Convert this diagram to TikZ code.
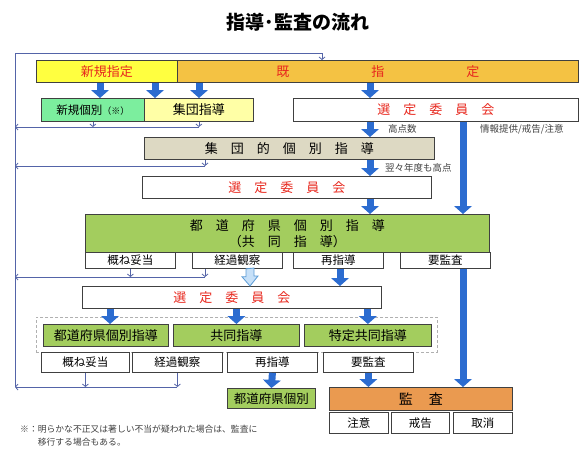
\documentclass[tikz,border=0pt]{standalone}
\usepackage{fontspec}
\setmainfont{Noto Sans CJK JP}
\usepackage{xcolor}
\usepackage{tikz}
\usetikzlibrary{arrows.meta}
\definecolor{FLYellow}{HTML}{FFFF40}
\definecolor{FLOrange}{HTML}{F4C243}
\definecolor{FLMint}{HTML}{7CEE9E}
\definecolor{FLCream}{HTML}{FFFFA6}
\definecolor{FLBeige}{HTML}{DDD9C3}
\definecolor{FLGreen}{HTML}{A3CD5E}
\definecolor{FLAudit}{HTML}{EA9A50}
\definecolor{FLBlue}{HTML}{2C6CD0}
\definecolor{FLSky}{HTML}{C6E0F8}
\definecolor{FLSkyEdge}{HTML}{5B9BD5}
\definecolor{FLRail}{HTML}{5464A8}
\definecolor{FLRed}{HTML}{E8281E}
\definecolor{FLEdge}{HTML}{404040}
\definecolor{FLFrame}{HTML}{B0B0B0}
\definecolor{FLText}{HTML}{404040}

\begin{document}
\begin{tikzpicture}[x=1pt,y=-1pt,
  box/.style={draw=FLEdge,line width=0.8pt,inner sep=0pt,anchor=north west,align=center,font=\fontsize{13}{16}\selectfont},
  res/.style={box,fill=white,font=\fontsize{11.5}{12}\selectfont},
  lbl/.style={inner sep=0pt,anchor=west,text=FLText,font=\fontsize{9.5}{10}\selectfont},
  blk/.style={draw=FLBlue,line width=7pt,-{Triangle[width=18pt,length=8pt,line width=0pt]}},
  hollow/.style={draw=FLSkyEdge,fill=FLSky,line width=0.8pt},
  rail/.style={draw=FLRail,line width=0.8pt},
  railtip/.style={rail,-{Straight Barb[length=2.5pt,width=6pt]}}]
\path[use as bounding box] (0,0) rectangle (586,450);
\node[font=\fontsize{19}{19}\selectfont\bfseries] (title) at (298,22) {指導･監査の流れ};
\node[box,fill=FLYellow,text=FLRed,minimum width=141pt,minimum height=22pt] (newdes) at (36,60) {新規指定};
\node[box,fill=FLOrange,text=FLRed,minimum width=401pt,minimum height=22pt] (exdes) at (177,60) {既\hspace{82pt}指\hspace{82pt}定};
\node[box,fill=FLMint,minimum width=103pt,minimum height=23pt,font=\fontsize{11.5}{12}\selectfont] (newind) at (41,98) {新規個別{\fontsize{9}{9}\selectfont（※）}};
\node[box,fill=FLCream,minimum width=109pt,minimum height=23pt] (grpgd) at (144,98) {集団指導};
\node[box,fill=white,text=FLRed,minimum width=285pt,minimum height=23pt] (sel1) at (293,98) {選\quad 定\quad 委\quad 員\quad 会};
\node[box,fill=FLBeige,minimum width=290pt,minimum height=22pt] (grpind) at (144,137) {集\quad 団\quad 的\quad 個\quad 別\quad 指\quad 導};
\node[box,fill=white,text=FLRed,minimum width=289pt,minimum height=22pt] (sel2) at (142,176) {選\quad 定\quad 委\quad 員\quad 会};
\node[box,fill=FLGreen,minimum width=404pt,minimum height=38pt] (prefjt) at (85,214) {都\quad 道\quad 府\quad 県\quad 個\quad 別\quad 指\quad 導\\（共\quad 同\quad 指\quad 導）};
\node[res,minimum width=90pt,minimum height=16pt] (ok1) at (85,252) {概ね妥当};
\node[res,minimum width=90pt,minimum height=16pt] (obs1) at (192,252) {経過観察};
\node[res,minimum width=90pt,minimum height=16pt] (re1) at (293,252) {再指導};
\node[res,minimum width=90pt,minimum height=16pt] (aud1) at (400,252) {要監査};
\node[box,fill=white,text=FLRed,minimum width=299pt,minimum height=22pt] (sel3) at (82,286) {選\quad 定\quad 委\quad 員\quad 会};
\node[draw=FLFrame,densely dashed,line width=0.8pt,inner sep=0pt,anchor=north west,minimum width=401pt,minimum height=35pt] (frame) at (36,317) {};
\node[box,fill=FLGreen,minimum width=125pt,minimum height=22pt] (pref) at (43,324) {都道府県個別指導};
\node[box,fill=FLGreen,minimum width=126pt,minimum height=22pt] (joint) at (173,324) {共同指導};
\node[box,fill=FLGreen,minimum width=127pt,minimum height=22pt] (spjoint) at (304,324) {特定共同指導};
\node[res,minimum width=88pt,minimum height=20pt] (ok2) at (41,352) {概ね妥当};
\node[res,minimum width=90pt,minimum height=20pt] (obs2) at (132,352) {経過観察};
\node[res,minimum width=90pt,minimum height=20pt] (re2) at (227,352) {再指導};
\node[res,minimum width=90pt,minimum height=20pt] (aud2) at (323,352) {要監査};
\node[box,fill=FLGreen,minimum width=88pt,minimum height=20pt,font=\fontsize{12.5}{13}\selectfont] (pref2) at (227,388) {都道府県個別};
\node[box,fill=FLAudit,minimum width=183pt,minimum height=23pt,font=\fontsize{14}{14}\selectfont] (audit) at (329,387) {監\hspace{16pt}査};
\node[res,minimum width=59pt,minimum height=21pt] (caut) at (329,412) {注意};
\node[res,minimum width=58pt,minimum height=21pt] (warn) at (391,412) {戒告};
\node[res,minimum width=59pt,minimum height=21pt] (cancel) at (453,412) {取消};
\node[lbl] (lbscore) at (388,129) {高点数};
\node[lbl] (lbinfo) at (480,129) {情報提供/戒告/注意};
\node[lbl] (lbrepeat) at (385,168) {翌々年度も高点};
\node[inner sep=0pt,anchor=north west,align=left,text=FLText,font=\fontsize{8.8}{12.5}\selectfont] (note) at (20,425) {※：明らかな不正又は著しい不当が疑われた場合は、監査に\\\hspace*{2em}移行する場合もある。};
\coordinate (c100) at (100,0);
\coordinate (c155) at (155,0);
\coordinate (c199) at (199,0);
\coordinate (c205) at (205,0);
\coordinate (c110) at (110,0);
\coordinate (c250) at (250,0);
\coordinate (c322) at (322,0);
\coordinate (c340) at (340,0);
\coordinate (c370) at (370,0);
\coordinate (c463) at (463,0);
\coordinate (r1) at (15,127);
\coordinate (r2) at (15,166);
\coordinate (r3) at (15,277);
\coordinate (r4) at (15,387);
\coordinate (lpt) at (15,53);
\draw[railtip] (newind.south) -- (newind.south |- r1);
\draw[railtip] (grpgd.south) -- (grpgd.south |- r1);
\draw[railtip] (grpgd.south |- r1) -- (r1);
\draw[railtip] (grpind.south -| c205) -- (c205 |- r2);
\draw[railtip] (c205 |- r2) -- (r2);
\draw[railtip] (ok1.south) -- (ok1.south |- r3);
\draw[railtip] (obs1.south -| c205) -- (c205 |- r3);
\draw[railtip] (c205 |- r3) -- (r3);
\draw[railtip] (ok2.south) -- (ok2.south |- r4);
\draw[railtip] (obs2.south) -- (obs2.south |- r4);
\draw[railtip] (obs2.south |- r4) -- (r4);
\draw[railtip] (r4) -- (lpt) -| (exdes.north -| c322);
\draw[blk] (newdes.south -| c100) -- (newind.north -| c100);
\draw[blk] (newdes.south -| c155) -- (grpgd.north -| c155);
\draw[blk] (exdes.south -| c199) -- (grpgd.north -| c199);
\draw[blk] (exdes.south -| c370) -- (sel1.north -| c370);
\draw[blk] (sel1.south -| c370) -- (grpind.north -| c370);
\draw[blk] (grpind.south -| c370) -- (sel2.north -| c370);
\draw[blk] (sel2.south -| c370) -- (prefjt.north -| c370);
\draw[blk] (sel1.south -| c463) -- (prefjt.north -| c463);
\draw[blk] (re1.south -| c340) -- (sel3.north -| c340);
\draw[hollow] (obs1.south -| c250) ++(-4,0) -- ++(0,8) -- ++(-4,0) -- (c250 |- sel3.north) -- ++(8,-10) -- ++(-4,0) -- ++(0,-8) -- cycle;
\draw[blk] (aud1.south -| c463) -- (audit.north -| c463);
\draw[blk] (sel3.south -| c110) -- (pref.north -| c110);
\draw[blk] (sel3.south -| joint.north) -- (joint.north);
\draw[blk] (sel3.south -| spjoint.north) -- (spjoint.north);
\draw[blk] (re2.south) -- (pref2.north);
\draw[blk] (aud2.south) -- (aud2.south |- audit.north);
\end{tikzpicture}
\end{document}
